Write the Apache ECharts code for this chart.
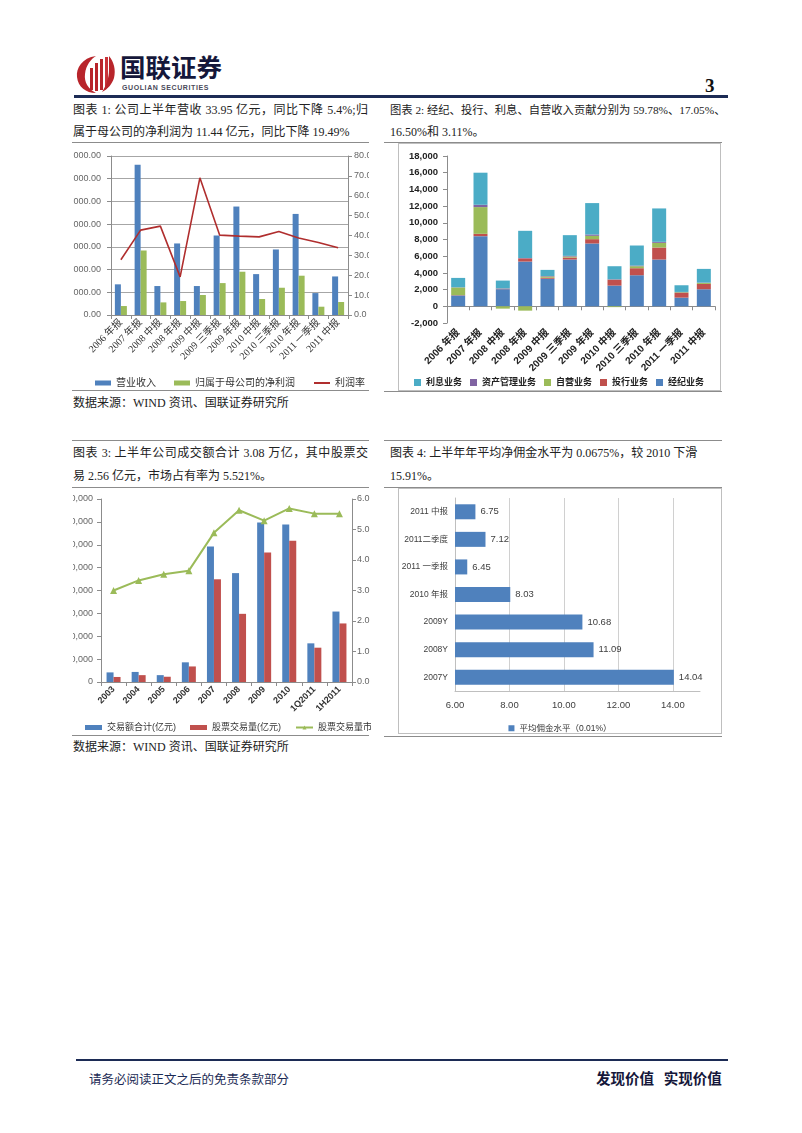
<!DOCTYPE html>
<html><head><meta charset="utf-8">
<script src="https://cdn.jsdelivr.net/npm/echarts@6/dist/echarts.min.js"></script>
<style>
html,body{margin:0;padding:0;background:#fff;}
body{width:802px;height:1133px;position:relative;overflow:hidden;font-family:"Liberation Serif","Noto Sans CJK SC",serif;color:#111;}
.t{position:absolute;font-size:12px;line-height:14px;white-space:nowrap;color:#222;}
.j{text-align:justify;text-align-last:justify;white-space:nowrap;}
.hl{position:absolute;height:1px;background:#8c8c8c;}
.box{position:absolute;box-sizing:border-box;border:1px solid #bfbfbf;}
.ch{position:absolute;}
</style></head><body>

<!-- header -->
<svg style="position:absolute;left:76px;top:54px" width="42" height="40" viewBox="0 0 42 40">
  <path d="M20 2 C6 4 0 14 1 23 C2 33 10 39 20 39 C12 35 8 28 9 20 C10 11 15 5 20 2 Z" fill="#b8252b"/>
  <rect x="14" y="14" width="3" height="22" fill="#b8252b"/>
  <rect x="19" y="9" width="3" height="28" fill="#b8252b"/>
  <rect x="24" y="5" width="3" height="31" fill="#b8252b"/>
  <rect x="29" y="3" width="3" height="31" fill="#c9343a"/>
  <path d="M33 2 C38 8 40 16 38 24 C36 30 32 35 26 38 C30 32 33 24 33 16 Z" fill="#b8252b"/>
</svg>
<div style="position:absolute;left:120px;top:51px;font-family:'Noto Sans CJK SC';font-weight:bold;font-size:25.5px;line-height:30px;color:#15173a;">国联证券</div>
<div style="position:absolute;left:122px;top:84px;font-family:'Liberation Sans';font-weight:bold;font-size:7px;line-height:8px;color:#4a4a5a;letter-spacing:0.6px;">GUOLIAN SECURITIES</div>
<div style="position:absolute;left:705px;top:76px;font-family:'Liberation Serif';font-weight:bold;font-size:19px;line-height:20px;color:#111;">3</div>
<div style="position:absolute;left:74px;top:95px;width:654px;height:3px;background:#1c2b55;"></div>

<!-- titles row 1 -->
<div class="t j" style="left:73px;top:103px;width:295px;">图表 1: 公司上半年营收 33.95 亿元，同比下降 5.4%;归</div>
<div class="t" style="left:73px;top:125px;">属于母公司的净利润为 11.44 亿元，同比下降 19.49%</div>
<div class="t j" style="left:390px;top:103px;width:332px;font-size:11.3px;">图表 2: 经纪、投行、利息、自营收入贡献分别为 59.78%、17.05%、</div>
<div class="t" style="left:390px;top:125px;">16.50%和 3.11%。</div>
<div class="hl" style="left:72px;top:142px;width:297px;"></div>
<div class="hl" style="left:384px;top:142px;width:338px;"></div>

<div id="c1" class="ch" style="left:73px;top:145px;width:296px;height:243px;"></div>
<div id="c2" class="box" style="left:398px;top:143px;width:323px;height:248px;"></div>

<div class="hl" style="left:72px;top:390px;width:297px;"></div>
<div class="hl" style="left:384px;top:391px;width:338px;"></div>
<div class="t" style="left:73px;top:396px;">数据来源：WIND 资讯、国联证券研究所</div>

<!-- titles row 2 -->
<div class="hl" style="left:72px;top:440px;width:297px;"></div>
<div class="hl" style="left:384px;top:440px;width:338px;"></div>
<div class="t j" style="left:73px;top:446px;width:295px;">图表 3: 上半年公司成交额合计 3.08 万亿，其中股票交</div>
<div class="t" style="left:73px;top:469px;">易 2.56 亿元，市场占有率为 5.521%。</div>
<div class="t" style="left:390px;top:446px;">图表 4: 上半年年平均净佣金水平为 0.0675%，较 2010 下滑</div>
<div class="t" style="left:390px;top:469px;">15.91%。</div>
<div class="hl" style="left:72px;top:487px;width:297px;"></div>
<div class="hl" style="left:384px;top:487px;width:338px;"></div>

<div id="c3" class="ch" style="left:73px;top:488px;width:298px;height:245px;"></div>
<div id="c4" class="box" style="left:398px;top:488px;width:324px;height:246px;"></div>

<div class="hl" style="left:72px;top:735px;width:297px;"></div>
<div class="hl" style="left:384px;top:736px;width:338px;"></div>
<div class="t" style="left:73px;top:740px;">数据来源：WIND 资讯、国联证券研究所</div>

<!-- footer -->
<div style="position:absolute;left:76px;top:1059px;width:652px;height:2px;background:#1c2b55;"></div>
<div class="t" style="left:89px;top:1073px;color:#1c2b55;font-size:12.5px;">请务必阅读正文之后的免责条款部分</div>
<div style="position:absolute;left:596px;top:1069px;font-family:'Noto Sans CJK SC';font-weight:bold;font-size:14.5px;line-height:18px;color:#15173a;white-space:nowrap;">发现价值&nbsp;&nbsp;&nbsp;实现价值</div>

<script>
// ---------- Chart 1 data ----------
const c1Categories = ['2006 年报','2007 年报','2008 中报','2008 年报','2009 中报','2009 三季报','2009 年报','2010 中报','2010 三季报','2010 年报','2011 一季报','2011 中报'];
const c1Revenue    = [2700,13240,2550,6300,2550,7000,9550,3600,5770,8900,1930,3395];
const c1NetProfit  = [790,5680,1110,1230,1760,2810,3810,1410,2400,3460,730,1144];
const c1ProfitRate = [27.8,42.7,44.7,19.2,69.0,40.2,39.7,39.3,42.0,38.7,36.5,33.8];

// ---------- Chart 2 data ----------
const c2Categories  = ['2006 年报','2007 年报','2008 中报','2008 年报','2009 中报','2009 三季报','2009 年报','2010 中报','2010 三季报','2010 年报','2011 一季报','2011 中报'];
const c2Brokerage   = [1300,8400,2050,5360,3300,5600,7520,2480,3720,5600,1040,2040];
const c2Investment  = [40,280,60,380,120,240,520,720,840,1440,560,640];
const c2Proprietary = [920,3200,-280,-520,150,120,400,-100,240,560,80,120];
const c2AssetMgmt   = [20,280,30,40,60,80,160,30,80,120,40,40];
const c2Interest    = [1120,3840,940,3260,730,2480,3760,1570,2400,4000,800,1640];

// ---------- Chart 3 data ----------
const c3Categories = ['2003','2004','2005','2006','2007','2008','2009','2010','1Q2011','1H2011'];
const c3Total      = [4200,4400,3000,8600,59200,47600,69700,68900,16900,30800];
const c3Stock      = [2200,3000,2300,6800,44900,29800,56600,61800,15000,25600];
const c3Share      = [3.0,3.33,3.53,3.65,4.89,5.63,5.29,5.69,5.52,5.52];

// ---------- Chart 4 data ----------
const c4Categories = ['2007Y','2008Y','2009Y','2010 年报','2011 一季报','2011二季度','2011 中报'];
const c4Values     = [14.04,11.09,10.68,8.03,6.45,7.12,6.75];

const BLUE='#4F81BD', RED='#C0504D', GREEN='#9BBB59', PURPLE='#8064A2', TEAL='#4BACC6';
const SANS = 'Liberation Sans, Noto Sans CJK SC, sans-serif';
const SERIF = 'Liberation Serif, Noto Sans CJK SC, serif';
const fmtComma = (v, d) => Number(v).toLocaleString('en-US',{minimumFractionDigits:d, maximumFractionDigits:d});

// Chart 1
echarts.init(document.getElementById('c1')).setOption({
  animation:false,
  grid:{left:38,right:21,top:11,bottom:73,outerBoundsMode:'none',containLabel:false},
  legend:{left:17,top:228,width:400,itemWidth:16,itemHeight:5,itemGap:18,
    textStyle:{fontSize:10,color:'#333',fontFamily:SANS},
    data:[{name:'营业收入',icon:'rect'},{name:'归属于母公司的净利润',icon:'rect'},
          {name:'利润率',itemStyle:{opacity:0}}]},
  xAxis:{type:'category',data:c1Categories,
    axisLine:{lineStyle:{color:'#8c8c8c'}},
    axisTick:{show:true,length:4,lineStyle:{color:'#8c8c8c'}},
    axisLabel:{rotate:45,interval:0,fontSize:10,color:'#333',fontFamily:SERIF,margin:6}},
  yAxis:[
    {type:'value',min:0,max:14000,interval:2000,
     axisLabel:{formatter:v=>fmtComma(v,2),fontSize:9,color:'#666',fontFamily:SANS,margin:10},
     axisLine:{show:true,lineStyle:{color:'#8c8c8c'}},
     axisTick:{show:true,length:4,lineStyle:{color:'#8c8c8c'}},
     splitLine:{lineStyle:{color:'#a6a6a6'}}},
    {type:'value',min:0,max:80,interval:10,
     axisLabel:{formatter:v=>v.toFixed(1),fontSize:9,color:'#666',fontFamily:SANS,margin:6},
     axisLine:{show:true,lineStyle:{color:'#8c8c8c'}},
     axisTick:{show:true,length:4,lineStyle:{color:'#8c8c8c'}},
     splitLine:{show:false}}
  ],
  series:[
    {name:'营业收入',type:'bar',data:c1Revenue,barWidth:6,barGap:'0%',itemStyle:{color:BLUE}},
    {name:'归属于母公司的净利润',type:'bar',data:c1NetProfit,barWidth:6,barGap:'0%',itemStyle:{color:GREEN}},
    {name:'利润率',type:'line',yAxisIndex:1,data:c1ProfitRate,symbol:'none',
     lineStyle:{color:'#B02E2E',width:1.6},itemStyle:{color:'#B02E2E'}}
  ]
});

// Chart 2
const c2bar = (name,data,color)=>({name,type:'bar',stack:'s',data,barWidth:14,itemStyle:{color}});
echarts.init(document.getElementById('c2')).setOption({
  animation:false,
  grid:{left:48,right:5,top:12,bottom:67,outerBoundsMode:'none',containLabel:false},
  legend:{left:10,top:229,width:400,itemWidth:7,itemHeight:7,itemGap:8,icon:'rect',
    textStyle:{fontSize:9,color:'#222',fontFamily:SANS,fontWeight:'bold'},
    data:['利息业务','资产管理业务','自营业务','投行业务','经纪业务']},
  xAxis:{type:'category',data:c2Categories,
    axisLine:{onZero:true,lineStyle:{color:'#8c8c8c'}},
    axisTick:{show:true,length:4,lineStyle:{color:'#8c8c8c'}},
    axisLabel:{rotate:45,interval:0,fontSize:10,color:'#222',fontFamily:SANS,fontWeight:'bold',margin:8}},
  yAxis:{type:'value',min:-2000,max:18000,interval:2000,
    axisLabel:{formatter:v=>fmtComma(v,0),fontSize:9.5,color:'#222',fontFamily:SANS,fontWeight:'bold',margin:9},
    axisLine:{show:true,lineStyle:{color:'#8c8c8c'}},
    axisTick:{show:true,length:4,lineStyle:{color:'#8c8c8c'}},
    splitLine:{show:false}},
  series:[
    c2bar('经纪业务',c2Brokerage,BLUE),
    c2bar('投行业务',c2Investment,RED),
    c2bar('自营业务',c2Proprietary,GREEN),
    c2bar('资产管理业务',c2AssetMgmt,PURPLE),
    c2bar('利息业务',c2Interest,TEAL)
  ]
});

// Chart 3
echarts.init(document.getElementById('c3')).setOption({
  animation:false,
  grid:{left:28,right:19,top:11,bottom:51,outerBoundsMode:'none',containLabel:false},
  legend:{left:7,top:230,width:500,itemWidth:17,itemHeight:5,itemGap:14,
    textStyle:{fontSize:9,color:'#333',fontFamily:SANS},
    data:[{name:'交易额合计(亿元)',icon:'rect'},{name:'股票交易量(亿元)',icon:'rect'},{name:'股票交易量市场占有率(%)'}]},
  xAxis:{type:'category',data:c3Categories,
    axisLine:{lineStyle:{color:'#8c8c8c'}},
    axisTick:{show:true,length:4,lineStyle:{color:'#8c8c8c'}},
    axisLabel:{rotate:45,interval:0,fontSize:9,color:'#333',fontFamily:SANS,fontWeight:'bold',margin:6}},
  yAxis:[
    {type:'value',min:0,max:80000,interval:10000,
     axisLabel:{formatter:v=>fmtComma(v,0),fontSize:9,color:'#666',fontFamily:SANS,margin:8},
     axisLine:{show:true,lineStyle:{color:'#8c8c8c'}},
     axisTick:{show:true,length:4,lineStyle:{color:'#8c8c8c'}},
     splitLine:{show:false}},
    {type:'value',min:0,max:6,interval:1,
     axisLabel:{formatter:v=>v.toFixed(1),fontSize:9,color:'#666',fontFamily:SANS,margin:5},
     axisLine:{show:true,lineStyle:{color:'#8c8c8c'}},
     axisTick:{show:true,length:4,lineStyle:{color:'#8c8c8c'}},
     splitLine:{show:false}}
  ],
  series:[
    {name:'交易额合计(亿元)',type:'bar',data:c3Total,barWidth:7,barGap:'0%',itemStyle:{color:BLUE}},
    {name:'股票交易量(亿元)',type:'bar',data:c3Stock,barWidth:7,barGap:'0%',itemStyle:{color:RED}},
    {name:'股票交易量市场占有率(%)',type:'line',yAxisIndex:1,data:c3Share,
     symbol:'triangle',symbolSize:7,lineStyle:{color:GREEN,width:2},itemStyle:{color:GREEN}}
  ]
});

// Chart 4
echarts.init(document.getElementById('c4')).setOption({
  animation:false,
  grid:{left:56,right:21,top:9,bottom:42,outerBoundsMode:'none',containLabel:false},
  legend:{left:'center',top:230,itemWidth:6,itemHeight:6,icon:'rect',
    textStyle:{fontSize:8.5,color:'#333',fontFamily:SANS},
    data:['平均佣金水平（0.01%）']},
  xAxis:{type:'value',min:6,max:15,interval:2,
    axisLabel:{formatter:v=>v.toFixed(2),showMaxLabel:false,fontSize:9.5,color:'#404040',fontFamily:SANS,margin:10},
    axisLine:{show:true,lineStyle:{color:'#bfbfbf'}},
    axisTick:{show:false},
    splitLine:{show:true,showMaxLine:false,lineStyle:{color:'#d0d0d0'}}},
  yAxis:{type:'category',data:c4Categories,
    axisLine:{show:true,lineStyle:{color:'#bfbfbf'}},
    axisTick:{show:false},
    axisLabel:{fontSize:8.5,color:'#404040',fontFamily:SANS,margin:7}},
  series:[
    {name:'平均佣金水平（0.01%）',type:'bar',data:c4Values,barWidth:15,itemStyle:{color:BLUE},
     label:{show:true,position:'right',distance:5,fontSize:9.5,color:'#404040',fontFamily:SANS,formatter:p=>p.value.toFixed(2)}}
  ]
});
</script>
</body></html>
